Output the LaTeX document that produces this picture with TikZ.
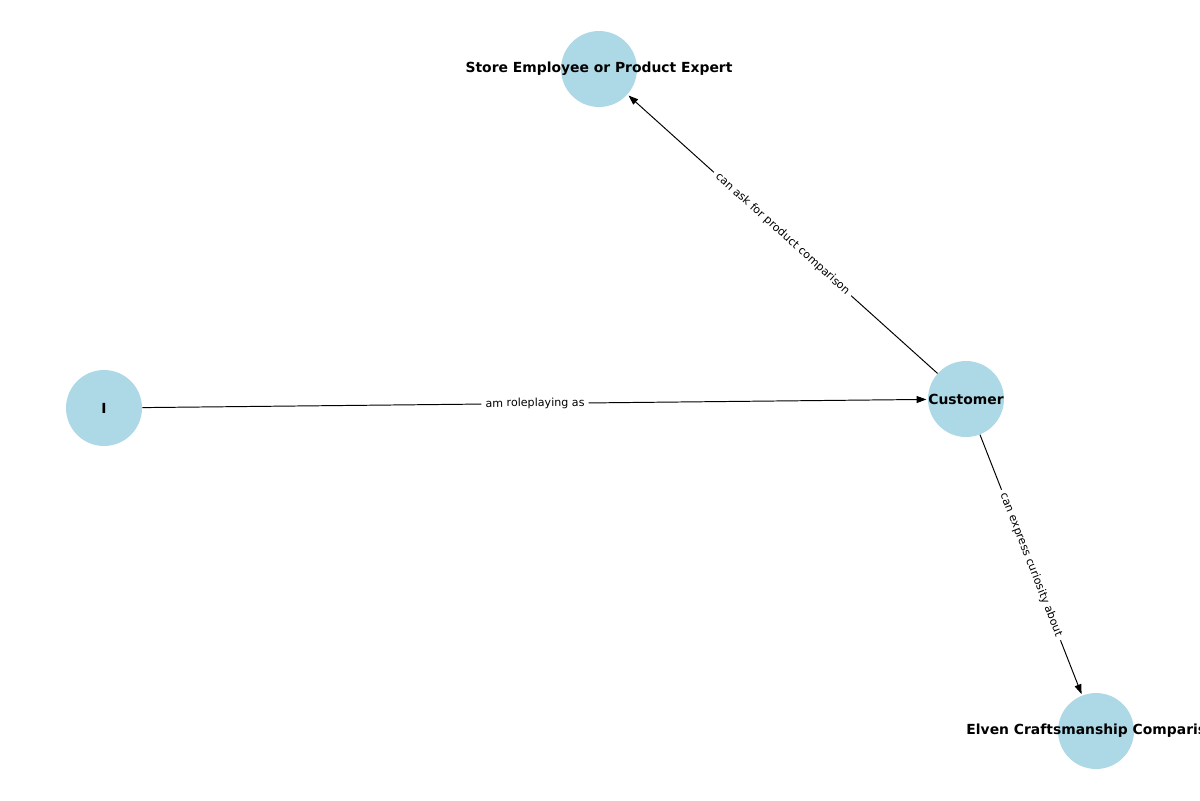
\documentclass[tikz,border=0pt]{standalone}
\usepackage{fontspec}
\setmainfont{DejaVu Sans}
\usetikzlibrary{arrows.meta}

\definecolor{nodeblue}{RGB}{173,216,230}

\tikzset{
  vertex/.style={circle, fill=nodeblue, minimum size=54.7pt, inner sep=0pt},
  vname/.style={font=\bfseries\fontsize{10pt}{12pt}\selectfont},
  link/.style={-{Stealth[length=7pt,width=5pt,inset=0pt]}, line width=0.7pt, shorten >=1pt},
  linktext/.style={midway, sloped, fill=white, inner sep=3pt, font=\fontsize{8pt}{9pt}\selectfont}
}

\begin{document}
\begin{tikzpicture}[x=0.72pt,y=-0.72pt]

\useasboundingbox (0,0) rectangle (1200,800);

\node[vertex, label={[vname]center:Store Employee or Product Expert}] (expert) at (599,69) {};
\node[vertex, label={[vname]center:I}] (me) at (104,408) {};
\node[vertex, label={[vname]center:Customer}] (customer) at (966,399) {};
\node[vertex, label={[vname]center:Elven Craftsmanship Comparison}] (elven) at (1096,731) {};

\draw[link] (me) -- node[linktext] {am roleplaying as} (customer);
\draw[link] (customer) -- node[linktext] {can ask for product comparison} (expert);
\draw[link] (customer) -- node[linktext] {can express curiosity about} (elven);

\end{tikzpicture}
\end{document}
